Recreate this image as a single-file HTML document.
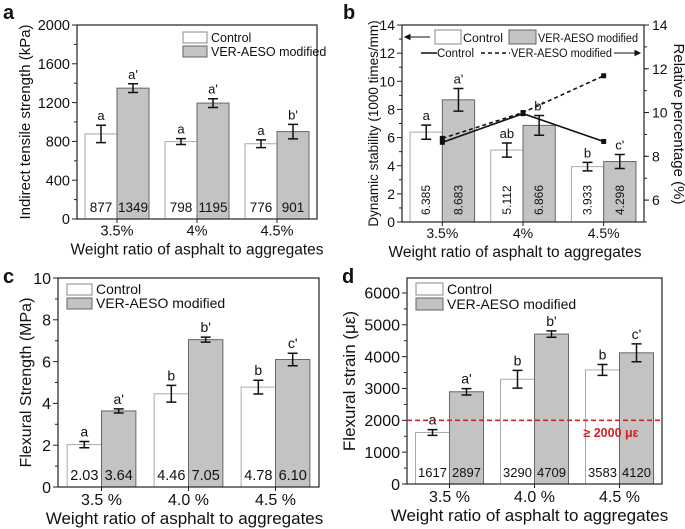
<!DOCTYPE html>
<html><head><meta charset="utf-8"><style>
html,body{margin:0;padding:0;background:#fff}
svg{display:block;font-family:"Liberation Sans",Arial,sans-serif}
</style></head><body>
<svg id="fig" width="685" height="529" viewBox="0 0 685 529" xmlns="http://www.w3.org/2000/svg"></svg>
<script>
const NS="http://www.w3.org/2000/svg";
const svg=document.getElementById('fig');

// ---- data ----
const aCats=["3.5%","4%","4.5%"];
const aControl=[877,798,776];
const aModified=[1349,1195,901];
const aCtrlErr=[90,30,40];
const aModErr=[45,45,75];
const aCtrlLetters=["a","a","a"];
const aModLetters=["a'","a'","b'"];
const aTicks=[0,400,800,1200,1600,2000];

const bCats=["3.5%","4%","4.5%"];
const bControl=[6.385,5.112,3.933];
const bModified=[8.683,6.866,4.298];
const bCtrlErr=[0.5,0.5,0.3];
const bModErr=[0.8,0.7,0.5];
const bCtrlLetters=["a","ab","b"];
const bModLetters=["a'","b'","c'"];
const bTicks=[0,2,4,6,8,10,12,14];
const bRightTicks=[6,8,10,12,14];
const bLineControl=[8.64,9.95,8.68];
const bLineModified=[8.82,10.0,11.68];

const cCats=["3.5 %","4.0 %","4.5 %"];
const cControl=[2.03,4.46,4.78];
const cModified=[3.64,7.05,6.10];
const cCtrlErr=[0.15,0.4,0.33];
const cModErr=[0.1,0.12,0.3];
const cCtrlLetters=["a","b","b"];
const cModLetters=["a'","b'","c'"];
const cTicks=[0,2,4,6,8,10];

const dCats=["3.5 %","4.0 %","4.5 %"];
const dControl=[1617,3290,3583];
const dModified=[2897,4709,4120];
const dCtrlErr=[90,280,170];
const dModErr=[100,100,280];
const dCtrlLetters=["a","b","b"];
const dModLetters=["a'","b'","c'"];
const dTicks=[0,1000,2000,3000,4000,5000,6000];
const dThreshold=2000;

function el(tag,attrs,parent,text){
  const e=document.createElementNS(NS,tag);
  for(const k in attrs)e.setAttribute(k,attrs[k]);
  if(text!==undefined)e.textContent=text;
  (parent||svg).appendChild(e);return e;
}

function panel(o){
  const g=el('g',{});
  
  
  const y=v=>o.y1-(v-o.ymin)/(o.ymax-o.ymin)*(o.y1-o.y0);
  const cw=(o.x1-o.x0)/o.cats.length;
  const cx=i=>o.x0+cw*(i+0.5);
  const bw=cw*o.bwf;
  for(let i=0;i<o.cats.length;i++){
    [[o.ctrl,o.cErr,o.cLet,-1,'#fff','control'],[o.mod,o.mErr,o.mLet,0,'#c3c3c3','modified']].forEach(s=>{
      const v=s[0][i],x=cx(i)+s[3]*bw;
      const r=el('rect',{x:x,y:y(v),width:bw,height:y(o.ymin)-y(v),fill:s[4],stroke:s[3]?'#aaa':'#666','stroke-width':1},g);
      
      
      const m=x+bw/2,e=s[1][i];
      const eb=el('path',{d:`M${m},${y(v+e)}V${y(v-e)}M${m-5},${y(v+e)}H${m+5}M${m-5},${y(v-e)}H${m+5}`,stroke:'#111','stroke-width':1.5,fill:'none'},g);
      
      
      const lt=el('text',{x:m,y:y(v+e)-5,'font-size':o.lfs,'text-anchor':'middle',fill:'#111'},g,s[2][i]);
      
      
      const lab=o.fmt?o.fmt(v):String(v);
      let vt;
      if(o.vert){
        vt=el('text',{x:0,y:0,'font-size':12,'text-anchor':'middle',fill:'#111',transform:`translate(${m+4},${o.y1-22}) rotate(-90)`},g,lab);
      }else{
        vt=el('text',{x:m,y:o.y1-7,'font-size':o.vfs,'text-anchor':'middle',fill:'#111'},g,lab);
      }
      
      
    });
  }
  const fr=el('rect',{x:o.x0,y:o.y0,width:o.x1-o.x0,height:o.y1-o.y0,fill:'none',stroke:'#222','stroke-width':1.2},g);
  
  
  for(let k=0;k<o.ticks.length;k++){
    const t=o.ticks[k],yy=y(t);
    el('line',{x1:o.x0-5,x2:o.x0,y1:yy,y2:yy,stroke:'#222'},g);
    if(k<o.ticks.length-1){const ym=y((t+o.ticks[k+1])/2);el('line',{x1:o.x0-3,x2:o.x0,y1:ym,y2:ym,stroke:'#222'},g);}
    const tl=el('text',{x:o.x0-7,y:yy+o.tfs*0.36,'font-size':o.tfs,'text-anchor':'end',fill:'#111'},g,String(t));
    
    
  }
  o.cats.forEach((c,i)=>{
    el('line',{x1:cx(i),x2:cx(i),y1:o.y1,y2:o.y1+4,stroke:'#222'},g);
    const xl=el('text',{x:cx(i),y:o.y1+o.tfs+2,'font-size':o.tfs,'text-anchor':'middle',fill:'#111'},g,c);
    
    
  });
  const xt=el('text',{x:(o.x0+o.x1)/2+o.xtOff,y:o.y1+o.tfs+21,'font-size':o.xtfs,'text-anchor':'middle',fill:'#111'},g,'Weight ratio of asphalt to aggregates');
  
  
  const yt=el('text',{x:0,y:0,'font-size':o.ytfs,'text-anchor':'middle',fill:'#111',transform:`translate(${o.ytx},${(o.y0+o.y1)/2}) rotate(-90)`},g,o.ytitle);
  
  
  const pl=el('text',{x:o.lx,y:o.ly,'font-size':20,'font-weight':'bold',fill:'#111'},g,o.letter);
  
  
  return {g,y,cx};
}

function legend(x,y0,fs,w,h,gap){
  const g=el('g',{});
  
  
  el('rect',{x:x,y:y0,width:w,height:h,fill:'#fff',stroke:'#888'},g);
  el('text',{x:x+w+4,y:y0+h-1,'font-size':fs,fill:'#111'},g,'Control');
  el('rect',{x:x,y:y0+gap,width:w,height:h,fill:'#c3c3c3',stroke:'#666'},g);
  el('text',{x:x+w+4,y:y0+gap+h-1,'font-size':fs,fill:'#111'},g,'VER-AESO modified');
}

// Panel a
panel({name:'panel-a',letter:'a',lx:3,ly:19,x0:77,x1:317,y0:25,y1:219,ymin:0,ymax:2000,cats:aCats,ctrl:aControl,mod:aModified,cErr:aCtrlErr,mErr:aModErr,cLet:aCtrlLetters,mLet:aModLetters,ticks:aTicks,bwf:0.4,tfs:14.5,xtfs:15.5,ytfs:15,ytx:30,ytitle:'Indirect tensile strength (kPa)',lfs:13,vfs:13.5,xtOff:0});
legend(183,32,12.5,24,11,14);

// Panel b
const pb=panel({name:'panel-b',letter:'b',lx:343,ly:19,x0:402,x1:644,y0:25,y1:222,ymin:0,ymax:14,cats:bCats,ctrl:bControl,mod:bModified,cErr:bCtrlErr,mErr:bModErr,cLet:bCtrlLetters,mLet:bModLetters,ticks:bTicks,bwf:0.4,tfs:14,xtfs:15.5,ytfs:13.5,ytx:378,ytitle:'Dynamic stability (1000 times/mm)',lfs:13,vert:true,fmt:v=>v.toFixed(3),xtOff:-8});
{
  const yr=v=>222-(v-5)/9*(222-25);
  const g=el('g',{});
  
  
  for(let v=5;v<14;v++){el('line',{x1:644,x2:647,y1:yr(v),y2:yr(v),stroke:'#222'},g);}
  bRightTicks.forEach(t=>{el('line',{x1:644,x2:649,y1:yr(t),y2:yr(t),stroke:'#222'},g);el('text',{x:652,y:yr(t)+5,'font-size':14,fill:'#111'},g,String(t));});
  el('text',{x:0,y:0,'font-size':15,'text-anchor':'middle',fill:'#111',transform:`translate(674,124) rotate(90)`},g,'Relative percentage (%)');
  [[bLineControl,'','control'],[bLineModified,'4,3','modified']].forEach(s=>{
    const pts=s[0].map((v,i)=>pb.cx(i)+','+yr(v)).join(' ');
    const pl=el('polyline',{points:pts,fill:'none',stroke:'#111','stroke-width':1.6,'stroke-dasharray':s[1]},g);
    
    
    s[0].forEach((v,i)=>{
      const mk=el('rect',{x:pb.cx(i)-2.5,y:yr(v)-2.5,width:5,height:5,fill:'#111'},g);
      
      
    });
  });
  const lg=el('g',{});
  
  
  el('path',{d:'M405,37H430M405,37l5,-2.5v5z',stroke:'#111',fill:'#111'},lg);
  el('rect',{x:435,y:30,width:26,height:14,fill:'#fff',stroke:'#888'},lg);
  el('text',{x:463,y:42,'font-size':11.5,fill:'#111',textLength:40,lengthAdjust:'spacingAndGlyphs'},lg,'Control');
  el('rect',{x:509,y:30,width:27,height:14,fill:'#c3c3c3',stroke:'#666'},lg);
  el('text',{x:538,y:42,'font-size':11.5,fill:'#111',textLength:100,lengthAdjust:'spacingAndGlyphs'},lg,'VER-AESO modified');
  el('line',{x1:421,x2:437,y1:53,y2:53,stroke:'#111','stroke-width':1.5},lg);
  el('text',{x:437,y:57,'font-size':11.5,fill:'#111',textLength:37,lengthAdjust:'spacingAndGlyphs'},lg,'Control');
  el('line',{x1:481,x2:510,y1:53,y2:53,stroke:'#111','stroke-width':1.5,'stroke-dasharray':'4,3'},lg);
  el('text',{x:511,y:57,'font-size':11.5,fill:'#111',textLength:101,lengthAdjust:'spacingAndGlyphs'},lg,'VER-AESO modified');
  el('path',{d:'M614,53H640M640,53l-5,-2.5v5z',stroke:'#111',fill:'#111'},lg);
}

// Panel c
panel({name:'panel-c',letter:'c',lx:3,ly:283,x0:58,x1:319,y0:278,y1:487,ymin:0,ymax:10,cats:cCats,ctrl:cControl,mod:cModified,cErr:cCtrlErr,mErr:cModErr,cLet:cCtrlLetters,mLet:cModLetters,ticks:cTicks,bwf:0.395,tfs:16,xtfs:17,ytfs:16,ytx:31,ytitle:'Flexural Strength (MPa)',lfs:14,vfs:14.5,fmt:v=>v.toFixed(2),xtOff:-4});
legend(67,284,14,25,11,14);

// Panel d
const pd=panel({name:'panel-d',letter:'d',lx:342,ly:283,x0:407,x1:662,y0:278,y1:484,ymin:0,ymax:6470,cats:dCats,ctrl:dControl,mod:dModified,cErr:dCtrlErr,mErr:dModErr,cLet:dCtrlLetters,mLet:dModLetters,ticks:dTicks,bwf:0.4,tfs:16,xtfs:17,ytfs:17,ytx:355,ytitle:'Flexural strain (με)',lfs:14,vfs:13,xtOff:-5});
legend(416,283,14,27,12,15);
{
  const ty=pd.y(dThreshold);
  const tl=el('line',{x1:407,x2:662,y1:ty,y2:ty,stroke:'#d42020','stroke-width':1.6,'stroke-dasharray':'5,3'});
  
  
  const tt=el('text',{x:611,y:437,'font-size':12.5,'font-weight':'bold','text-anchor':'middle',fill:'#d42020'},svg,'≥ 2000 με');
  
  
}
</script>
</body></html>
